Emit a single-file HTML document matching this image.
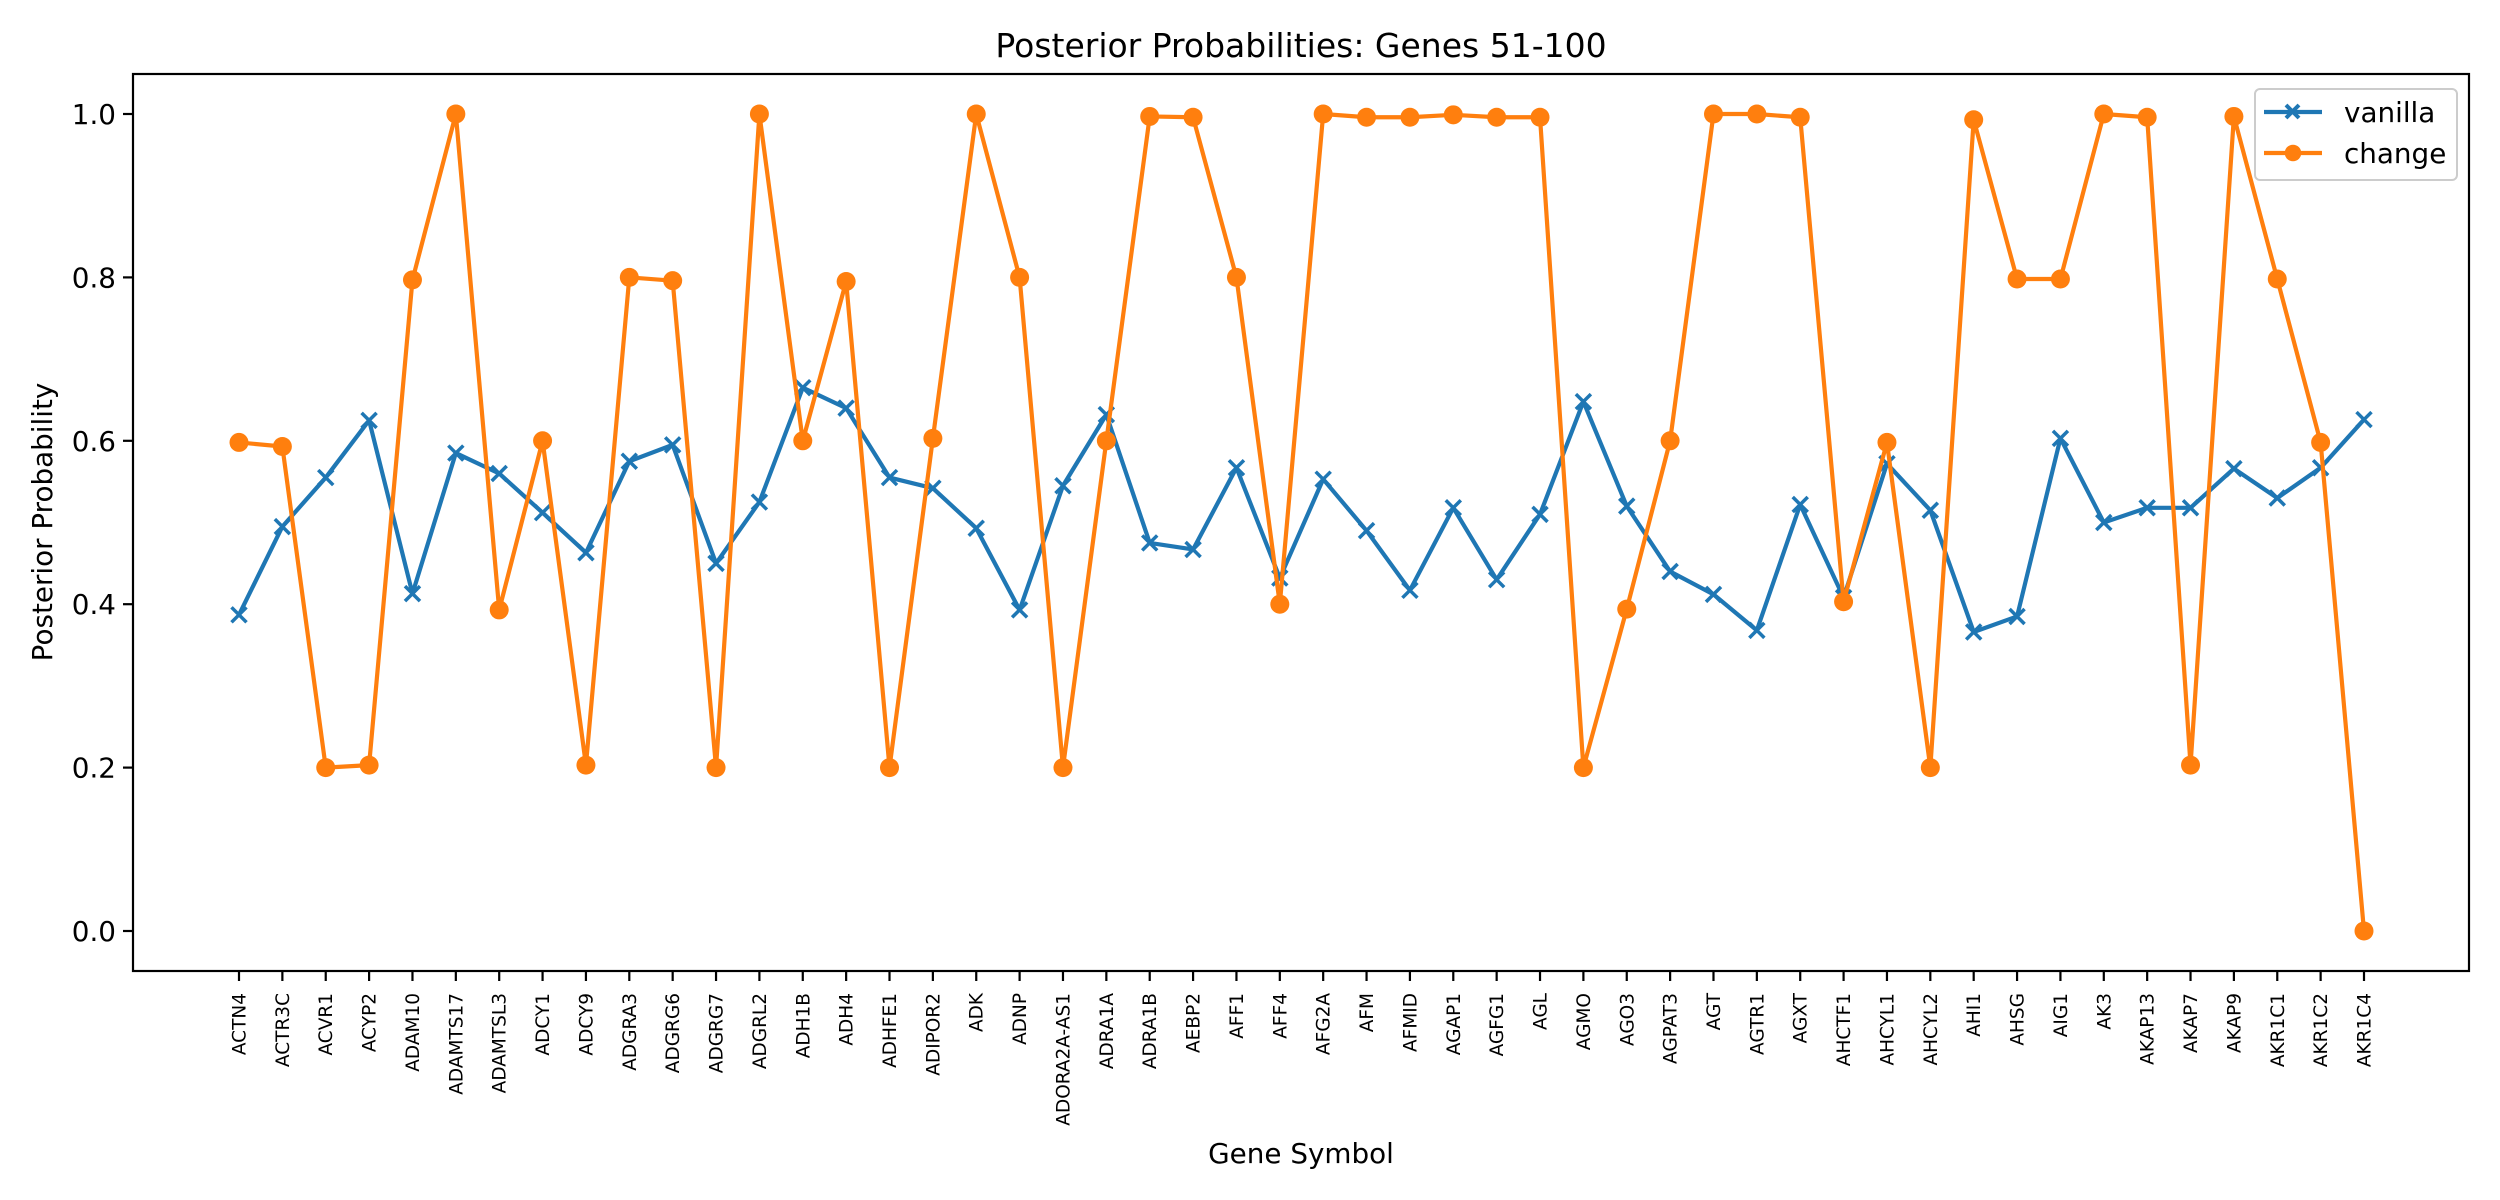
<!DOCTYPE html>
<html><head><meta charset="utf-8"><style>
html,body{margin:0;padding:0;background:#fff}
svg{display:block;font-family:"DejaVu Sans","Liberation Sans",sans-serif}
</style></head><body>
<svg id="chart" width="2500" height="1200" viewBox="0 0 2500 1200" xmlns="http://www.w3.org/2000/svg">
<rect width="2500" height="1200" fill="#fff"/>
<text x="1301" y="57" font-size="33" text-anchor="middle">Posterior Probabilities: Genes 51-100</text>
<text x="1301" y="1163" font-size="27.8" text-anchor="middle">Gene Symbol</text>
<text transform="translate(52,522) rotate(-90)" font-size="27.8" text-anchor="middle">Posterior Probability</text>
<g id="grid-x"></g>
<g id="grid-y"></g>
<g id="series"></g>
<rect x="133" y="74" width="2336" height="897" fill="none" stroke="#000" stroke-width="2.2"/>
<g>
<rect x="2255" y="89" width="202" height="91" rx="5" fill="#fff" fill-opacity="0.8" stroke="#ccc" stroke-width="2"/>
<line x1="2264" y1="112" x2="2322" y2="112" stroke="#1f77b4" stroke-width="4.2"/>
<path d="M2286,105 l13,13 M2299,105 l-13,13" stroke="#1f77b4" stroke-width="4"/>
<text x="2344" y="122" font-size="27.8">vanilla</text>
<line x1="2264" y1="153" x2="2322" y2="153" stroke="#ff7f0e" stroke-width="4.2"/>
<circle cx="2293" cy="153" r="8.3" fill="#ff7f0e"/>
<text x="2344" y="163" font-size="27.8">change</text>
</g>
</svg>
<script>
const genes = ["ACTN4","ACTR3C","ACVR1","ACYP2","ADAM10","ADAMTS17","ADAMTSL3","ADCY1","ADCY9","ADGRA3","ADGRG6","ADGRG7","ADGRL2","ADH1B","ADH4","ADHFE1","ADIPOR2","ADK","ADNP","ADORA2A-AS1","ADRA1A","ADRA1B","AEBP2","AFF1","AFF4","AFG2A","AFM","AFMID","AGAP1","AGFG1","AGL","AGMO","AGO3","AGPAT3","AGT","AGTR1","AGXT","AHCTF1","AHCYL1","AHCYL2","AHI1","AHSG","AIG1","AK3","AKAP13","AKAP7","AKAP9","AKR1C1","AKR1C2","AKR1C4"];
const vanilla = [.387,.495,.555,.625,.413,.585,.56,.512,.463,.575,.595,.45,.525,.665,.64,.555,.542,.493,.393,.545,.632,.475,.467,.567,.432,.553,.49,.417,.518,.43,.51,.648,.52,.44,.412,.368,.522,.408,.572,.515,.366,.385,.603,.5,.518,.518,.566,.53,.567,.626];
const change = [.598,.593,.2,.203,.797,1.0,.393,.6,.203,.8,.796,.2,1.0,.6,.795,.2,.603,1.0,.8,.2,.6,.997,.996,.8,.4,1.0,.996,.996,.999,.996,.996,.2,.394,.6,1.0,1.0,.996,.403,.598,.2,.993,.798,.798,1.0,.996,.203,.997,.798,.598,0.0];
const yTicks = [0.0,0.2,0.4,0.6,0.8,1.0];

const NS="http://www.w3.org/2000/svg";
function xs(i){return 239 + i*(2364-239)/(genes.length-1);}
function ys(v){return 931 - v*817;}
function mk(tag,attrs,parent){const e=document.createElementNS(NS,tag);for(const k in attrs)e.setAttribute(k,attrs[k]);parent.appendChild(e);return e;}
const gx=document.getElementById('grid-x'), gy=document.getElementById('grid-y'), gs=document.getElementById('series');
genes.forEach((g,i)=>{
  const x=xs(i);
  const t=mk('line',{x1:x,y1:971,x2:x,y2:981,stroke:'#000','stroke-width':2.2},gx);
  
  
  const l=mk('text',{transform:`translate(${x+6.5},993) rotate(-90)`,'font-size':18.5,'text-anchor':'end'},gx);
  l.textContent=g;
  
  
});
yTicks.forEach(v=>{
  const y=ys(v);
  const t=mk('line',{x1:123,y1:y,x2:133,y2:y,stroke:'#000','stroke-width':2.2},gy);
  
  
  const l=mk('text',{x:116,y:y+10,'font-size':27.8,'text-anchor':'end'},gy);
  l.textContent=v.toFixed(1);
  
  
});
const pv=mk('polyline',{points:vanilla.map((v,i)=>xs(i)+','+ys(v)).join(' '),fill:'none',stroke:'#1f77b4','stroke-width':4.2,'stroke-linejoin':'round'},gs);


vanilla.forEach((v,i)=>{
  const x=xs(i),y=ys(v);
  const m=mk('path',{d:`M${x-7.5},${y-7.5}l15,15M${x+7.5},${y-7.5}l-15,15`,stroke:'#1f77b4','stroke-width':3.5},gs);
  
  
});
const pc=mk('polyline',{points:change.map((v,i)=>xs(i)+','+ys(v)).join(' '),fill:'none',stroke:'#ff7f0e','stroke-width':4.2,'stroke-linejoin':'round'},gs);


change.forEach((v,i)=>{
  const c=mk('circle',{cx:xs(i),cy:ys(v),r:9.5,fill:'#ff7f0e'},gs);
  
  
});
</script>
</body></html>
